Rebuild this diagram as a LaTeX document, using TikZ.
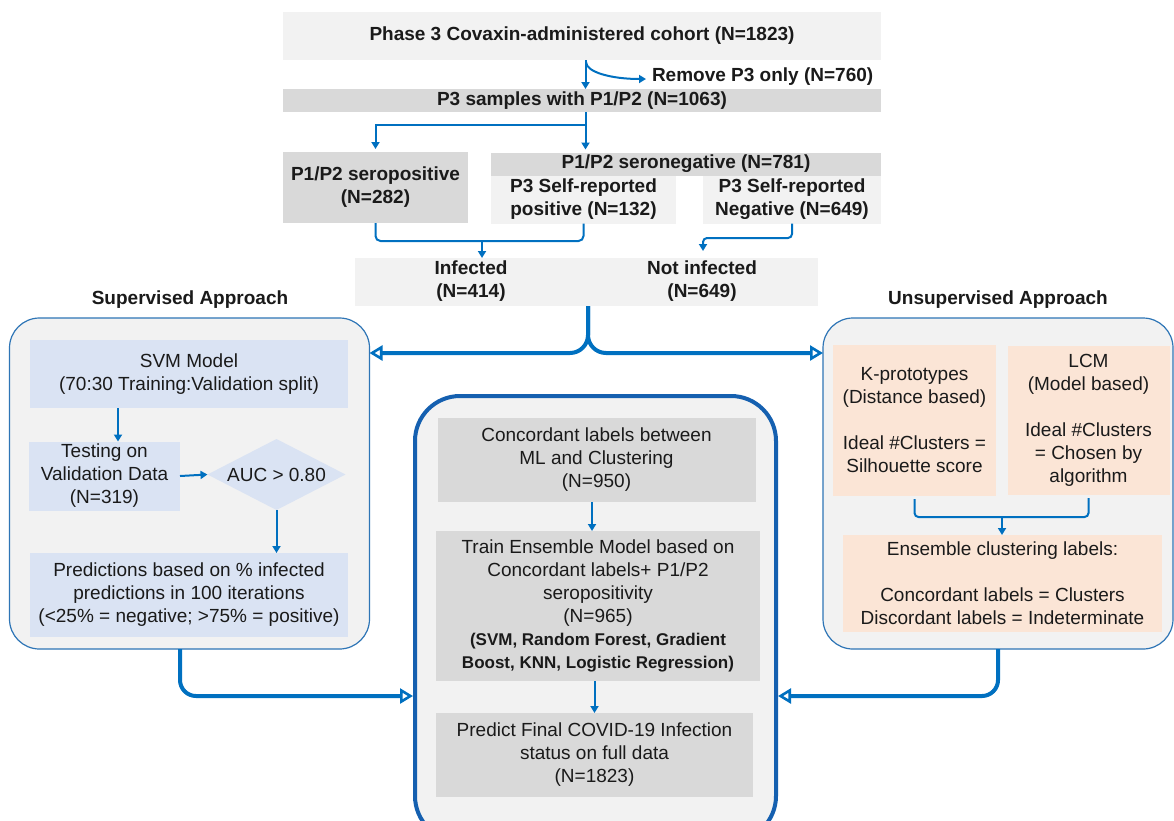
\documentclass[tikz,border=0pt]{standalone}
\usepackage{fontspec}
\setmainfont{Liberation Sans}
\usetikzlibrary{arrows.meta,shapes.geometric,calc}
\definecolor{lgray}{HTML}{F2F2F2}
\definecolor{dgray}{HTML}{D9D9D9}
\definecolor{lblue}{HTML}{DAE3F3}
\definecolor{peach}{HTML}{FBE5D6}
\definecolor{arrblue}{HTML}{0070C0}
\definecolor{boxblue}{HTML}{2E75B6}
\definecolor{ctrblue}{HTML}{1560B0}
\definecolor{txt}{HTML}{1A1A1A}
\newcommand\regf{\fontsize{19}{23}\selectfont}
\newcommand\bldf{\fontsize{19}{23}\selectfont\bfseries}
\newcommand\smbf{\fontsize{17}{21.5}\selectfont\bfseries}
\begin{document}
\begin{tikzpicture}[x=1pt,y=-1pt,
  box/.style={inner sep=0pt, outer sep=0pt, align=center, text=txt},
  bigbox/.style={draw=boxblue, line width=1.2pt, fill=lgray, rounded corners=30pt, inner sep=0pt, outer sep=0pt},
  ctrbox/.style={draw=ctrblue, line width=4pt, fill=lgray, rounded corners=45pt, inner sep=0pt, outer sep=0pt},
  ln/.style={draw=arrblue, line width=2pt},
  arr/.style={ln, -{Triangle[length=7pt,width=8pt]}},
  thk/.style={draw=arrblue, line width=4pt, -{Triangle[open, length=13pt, width=15pt, line width=2.6pt]}}]
\useasboundingbox (0,0) rectangle (1174,820);
\clip (0,0) rectangle (1174,820);
\fill[white] (0,0) rectangle (1174,820);

% top section
\node[box, fill=lgray, minimum width=598pt, minimum height=48pt, font=\bldf] (top) at (582,36) {Phase 3 Covaxin-administered cohort (N=1823)};
\node[box, font=\bldf, anchor=west] (rem) at (652,77) {Remove P3 only (N=760)};
\node[box, fill=dgray, minimum width=598pt, minimum height=23pt, font=\bldf] (p3s) at (582,100.5) {P3 samples with P1/P2 (N=1063)};
\node[box, fill=dgray, minimum width=185pt, minimum height=71pt, font=\bldf] (spos) at (375.5,187.5) {P1/P2 seropositive\\(N=282)};
\node[box, fill=dgray, minimum width=390pt, minimum height=23pt, font=\bldf] (sneg) at (686,164) {P1/P2 seronegative (N=781)};
\node[box, fill=lgray, minimum width=185pt, minimum height=48pt, font=\bldf] (srpos) at (583.5,199.5) {P3 Self-reported\\positive (N=132)};
\node[box, fill=lgray, minimum width=178pt, minimum height=48pt, font=\bldf] (srneg) at (792,199.5) {P3 Self-reported\\Negative (N=649)};
\node[box, fill=lgray, minimum width=463pt, minimum height=48pt] (inf) at (586.5,282) {};
\node[box, font=\bldf] (inft) at (471,281) {Infected\\(N=414)};
\node[box, font=\bldf] (ninft) at (702,281) {Not infected\\(N=649)};

% titles
\node[box, font=\bldf] (supt) at (190,300) {Supervised Approach};
\node[box, font=\bldf] (unst) at (998,300) {Unsupervised Approach};

% big boxes
\node[bigbox, minimum width=360pt, minimum height=331pt] (sup) at (189.5,483.5) {};
\node[bigbox, minimum width=350pt, minimum height=331pt] (uns) at (998,483.5) {};
\node[ctrbox, minimum width=361pt, minimum height=445pt] (ctr) at (595.5,618.5) {};

% supervised inner
\node[box, fill=lblue, minimum width=318pt, minimum height=68pt, font=\regf] (svm) at (189,374) {SVM Model\\(70:30 Training:Validation split)};
\node[box, fill=lblue, minimum width=151pt, minimum height=69pt, font=\regf] (test) at (104.5,476) {Testing on\\Validation Data\\(N=319)};
\node[diamond, fill=lblue, inner sep=0pt, outer sep=0pt, minimum width=138pt, minimum height=71pt, aspect=1.93, font=\regf, text=txt] (auc) at (276.5,474.5) {AUC > 0.80};
\node[box, fill=lblue, minimum width=318pt, minimum height=84pt, font=\regf] (pred) at (189,595) {Predictions based on \% infected\\predictions in 100 iterations\\(<25\% = negative; >75\% = positive)};

% unsupervised inner
\node[box, fill=peach, minimum width=163pt, minimum height=151pt, font=\regf] (kp) at (914.5,420.5) {K-prototypes\\(Distance based)\\[23pt]Ideal \#Clusters =\\Silhouette score};
\node[box, fill=peach, minimum width=162pt, minimum height=149pt, font=\regf] (lcm) at (1088.5,420.5) {LCM\\(Model based)\\[23pt]Ideal \#Clusters\\= Chosen by\\algorithm};
\node[box, fill=peach, minimum width=319pt, minimum height=97pt, font=\regf] (ens) at (1002.5,583.5) {Ensemble clustering labels:\\[23pt]Concordant labels = Clusters\\Discordant labels = Indeterminate};

% center inner
\node[box, fill=dgray, minimum width=318pt, minimum height=84pt, font=\regf] (conc) at (596.5,460) {Concordant labels between\\ML and Clustering\\(N=950)};
\node[box, fill=dgray, minimum width=324pt, minimum height=150pt, font=\regf] (train) at (598,606) {Train Ensemble Model based on\\Concordant labels+ P1/P2\\seropositivity\\(N=965)\\\smbf (SVM, Random Forest, Gradient\\\smbf Boost, KNN, Logistic Regression)};
\node[box, fill=dgray, minimum width=317pt, minimum height=84pt, font=\regf] (fin) at (594.5,755) {Predict Final COVID-19 Infection\\status on full data\\(N=1823)};

% connectors top
\draw[arr] ([xshift=3.5pt]top.south) -- ([xshift=3.5pt]p3s.north);
\draw[arr] ([xshift=4pt,yshift=-2pt]top.south) .. controls +(0,10) and +(-35,0) .. ([xshift=-6pt,yshift=-2pt]rem.west);
\draw[ln] ([xshift=3.5pt]p3s.south) -- ++(0,13) coordinate (j1);
\draw[arr, shorten >=3pt] (j1) -| (spos.north);
\draw[arr, shorten >=3pt] (j1) -- (j1 |- sneg.north);
\draw[ln, rounded corners=5pt] (spos.south) -- ++(0,18) -| (srpos.south);
\coordinate (j2) at (482,241);
\draw[arr] (j2) -- (j2 |- inf.north);
\coordinate (j3) at (703,238);
\draw[arr, rounded corners=4pt, shorten >=7pt] (srneg.south) |- (j3) -- (j3 |- inf.north);

% thick connectors
\coordinate (bj) at (588,353);
\draw[thk, rounded corners=18pt] (inf.south -| bj) |- (bj -| sup.east);
\draw[thk, rounded corners=18pt] (inf.south -| bj) |- (bj -| uns.west);
\coordinate (lj) at (0,696);
\draw[thk, rounded corners=16pt, shorten >=2pt] ([xshift=-9.5pt]sup.south) |- (lj -| ctr.west);
\draw[thk, rounded corners=16pt, shorten >=2pt] (uns.south) |- (lj -| ctr.east);

% supervised connectors
\coordinate (a1) at ([xshift=-71pt]svm.south);
\draw[arr] (a1) -- (a1 |- test.north);
\draw[arr] (test.east) -- (auc.west);
\draw[arr] (auc.south) -- (auc.south |- pred.north);

% unsupervised connectors
\draw[ln, rounded corners=4pt] ([yshift=-3pt]kp.south) -- ++(0,18) -| ([yshift=-3pt]lcm.south);
\coordinate (j4) at (1002,517);
\draw[arr] (j4) -- (j4 |- ens.north);

% center connectors
\coordinate (a2) at ([xshift=-4.5pt]conc.south);
\draw[arr] (a2) -- (a2 |- train.north);
\draw[arr] (train.south -| fin.north) -- (fin.north);
\end{tikzpicture}
\end{document}
